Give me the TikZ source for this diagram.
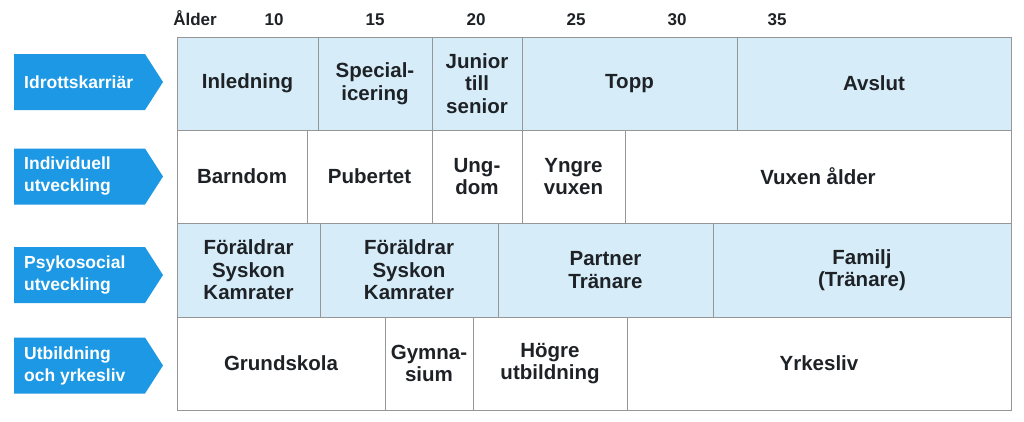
\documentclass[tikz,border=0pt]{standalone}
\usepackage{fontspec}
\setmainfont{Liberation Sans}
\definecolor{arrowblue}{RGB}{28,152,228}
\definecolor{cellblue}{RGB}{214,237,249}
\definecolor{gridgray}{RGB}{150,150,150}
\definecolor{txt}{RGB}{30,34,38}
\begin{document}
\begin{tikzpicture}[x=1pt,y=-1pt,
  cell/.style={draw=gridgray, line width=0.9pt, inner sep=0pt, align=center,
    font=\bfseries\fontsize{20.5}{22.5}\selectfont, text=txt},
  bluecell/.style={cell, fill=cellblue},
  whitecell/.style={cell, fill=white},
  lbl/.style={anchor=west, align=left, inner sep=0pt, text=white,
    font=\bfseries\fontsize{17.5}{22}\selectfont},
  hdr/.style={anchor=base, inner sep=0pt, text=txt,
    font=\bfseries\fontsize{17}{20}\selectfont}]
\useasboundingbox (0,0) rectangle (1024,421);
\fill[white] (0,0) rectangle (1024,421);

% header
\node[hdr] (alder) at (195,25) {Ålder};
\node[hdr] (a10) at (274,25) {10};
\node[hdr] (a15) at (375,25) {15};
\node[hdr] (a20) at (476,25) {20};
\node[hdr] (a25) at (576,25) {25};
\node[hdr] (a30) at (677,25) {30};
\node[hdr] (a35) at (777,25) {35};

% left arrows
\fill[arrowblue] (14,54) -- (145,54) -- (163,82) -- (145,110) -- (14,110) -- cycle;
\node[lbl] (l1) at (24,82) {Idrottskarriär};
\fill[arrowblue] (14,148.5) -- (145,148.5) -- (163,176.5) -- (145,204.5) -- (14,204.5) -- cycle;
\node[lbl] (l2) at (24,176.5) {Individuell\\utveckling};
\fill[arrowblue] (14,247) -- (145,247) -- (163,275) -- (145,303) -- (14,303) -- cycle;
\node[lbl] (l3) at (24,275) {Psykosocial\\utveckling};
\fill[arrowblue] (14,337.5) -- (145,337.5) -- (163,365.5) -- (145,393.5) -- (14,393.5) -- cycle;
\node[lbl] (l4) at (24,365.5) {Utbildning\\och yrkesliv};

% row 1
\node[bluecell, minimum width=141, minimum height=93] (c11) at (247.5,83.5) {Inledning};
\node[bluecell, minimum width=114, minimum height=93] (c12) at (375,83.5) {Special-\\icering};
\node[bluecell, minimum width=90, minimum height=93] (c13) at (477,83.5) {Junior\\till\\senior};
\node[bluecell, minimum width=215, minimum height=93] (c14) at (629.5,83.5) {Topp};
\node[bluecell, minimum width=274, minimum height=93] (c15) at (874,83.5) {Avslut};

% row 2
\node[whitecell, minimum width=130, minimum height=93] (c21) at (242,176.5) {Barndom};
\node[whitecell, minimum width=125, minimum height=93] (c22) at (369.5,176.5) {Pubertet};
\node[whitecell, minimum width=90, minimum height=93] (c23) at (477,176.5) {Ung-\\dom};
\node[whitecell, minimum width=103, minimum height=93] (c24) at (573.5,176.5) {Yngre\\vuxen};
\node[whitecell, minimum width=386, minimum height=93] (c25) at (818,176.5) {Vuxen ålder};

% row 3
\node[bluecell, minimum width=143, minimum height=94] (c31) at (248.5,270) {Föräldrar\\Syskon\\Kamrater};
\node[bluecell, minimum width=178, minimum height=94] (c32) at (409,270) {Föräldrar\\Syskon\\Kamrater};
\node[bluecell, minimum width=215, minimum height=94] (c33) at (605.5,270) {Partner\\Tränare};
\node[bluecell, minimum width=298, minimum height=94] (c34) at (862,270) {Familj\\(Tränare)};

% row 4
\node[whitecell, minimum width=208, minimum height=93] (c41) at (281,363.5) {Grundskola};
\node[whitecell, minimum width=88, minimum height=93] (c42) at (429,363.5) {Gymna-\\sium};
\node[whitecell, minimum width=154, minimum height=93] (c43) at (550,363.5) {Högre\\utbildning};
\node[whitecell, minimum width=384, minimum height=93] (c44) at (819,363.5) {Yrkesliv};
\end{tikzpicture}
\end{document}
